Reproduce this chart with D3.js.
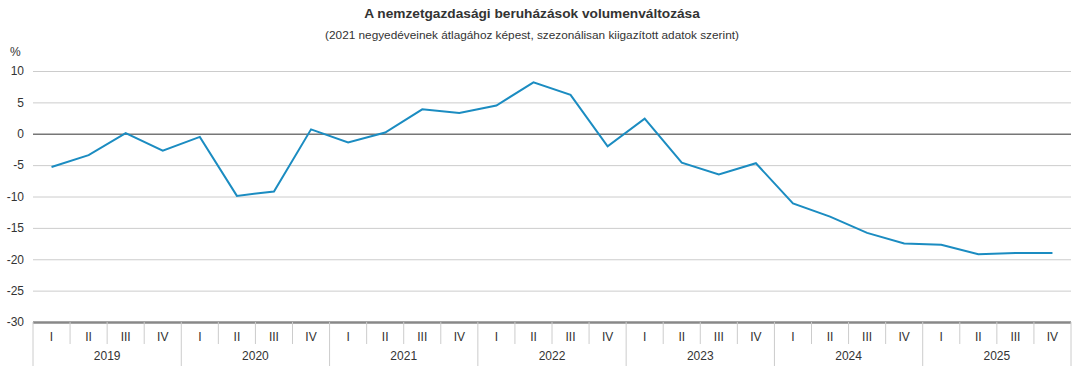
<!DOCTYPE html>
<html>
<head>
<meta charset="utf-8">
<script src="https://cdn.jsdelivr.net/npm/d3@7"></script>
<style>
	body { margin: 0; background: #fff; }
	svg { display: block; font-family: 'Liberation Sans', Arial, sans-serif; }
</style>
</head>
<body>
<div id="chart"></div>
<script>
// Data
var years = ['2019', '2020', '2021', '2022', '2023', '2024', '2025'];
var quarters = ['I', 'II', 'III', 'IV'];
var values = [
	-5.3, -3.4, 0.1, -2.7,
	-0.5, -9.9, -9.2, 0.7,
	-1.4, 0.2, 3.9, 3.3,
	4.5, 8.2, 6.2, -2.0,
	2.4, -4.6, -6.5, -4.7,
	-11.1, -13.2, -15.8, -17.5,
	-17.7, -19.2, -19.0, -19.0
];
var yTicks = [10, 5, 0, -5, -10, -15, -20, -25, -30];

var attrs = {
	width: 1080,
	height: 389,
	marginLeft: 33,
	marginRight: 9,
	plotTop: 71,
	plotBottom: 322,
	titleX: 532,
	textColor: '#333',
	lineColor: '#1b8cc1'
};

var periods = [];
years.forEach(function (y) {
	quarters.forEach(function (q) {
		periods.push({ year: y, q: q, key: y + '-' + q });
	});
});
periods.forEach(function (d, i) { d.value = values[i]; });

var svg = d3.select('#chart').append('svg')
	.attr('width', attrs.width)
	.attr('height', attrs.height);

var x = d3.scaleBand()
	.domain(periods.map(d => d.key))
	.range([attrs.marginLeft, attrs.width - attrs.marginRight]);

var y = d3.scaleLinear()
	.domain([-30, 10])
	.range([attrs.plotBottom, attrs.plotTop]);

// Titles
svg.append('text')
	.attr('x', attrs.titleX).attr('y', 18)
	.attr('text-anchor', 'middle')
	.attr('font-size', 13.7).attr('font-weight', 'bold')
	.attr('fill', attrs.textColor)
	.text('A nemzetgazdasági beruházások volumenváltozása');

svg.append('text')
	.attr('x', attrs.titleX).attr('y', 39)
	.attr('text-anchor', 'middle')
	.attr('font-size', 11.8)
	.attr('fill', attrs.textColor)
	.text('(2021 negyedéveinek átlagához képest, szezonálisan kiigazított adatok szerint)');

svg.append('text')
	.attr('x', 10).attr('y', 56)
	.attr('font-size', 12)
	.attr('fill', attrs.textColor)
	.text('%');

// Y grid + labels (plain hyphen as minus sign)
var yAxis = d3.axisLeft(y)
	.tickValues(yTicks)
	.tickFormat(d => String(d))
	.tickSize(-(attrs.width - attrs.marginRight - attrs.marginLeft))
	.tickPadding(9);

var yg = svg.append('g')
	.attr('transform', 'translate(' + attrs.marginLeft + ',0)')
	.call(yAxis);
yg.select('.domain').remove();
yg.selectAll('.tick line')
	.attr('stroke', d => d === 0 ? '#777' : (d === -30 ? '#888' : '#ccc'))
	.attr('stroke-width', d => d === -30 ? 2.5 : (d === 0 ? 1.3 : 1));
yg.selectAll('.tick text')
	.attr('font-size', 12)
	.attr('fill', attrs.textColor)
	.attr('font-family', "'Liberation Sans', Arial, sans-serif");

// X axis: quarter separators and labels
var xg = svg.append('g');
var bw = x.bandwidth();

xg.selectAll('.qsep')
	.data(periods.filter((d, i) => d.q !== 'I'))
	.enter().append('line')
	.attr('class', 'qsep')
	.attr('x1', d => x(d.key)).attr('x2', d => x(d.key))
	.attr('y1', attrs.plotBottom).attr('y2', attrs.plotBottom + 22)
	.attr('stroke', '#ccc');

var yearStarts = periods.filter(d => d.q === 'I').map(d => x(d.key));
yearStarts.push(attrs.width - attrs.marginRight);
xg.selectAll('.ysep')
	.data(yearStarts)
	.enter().append('line')
	.attr('class', 'ysep')
	.attr('x1', d => d).attr('x2', d => d)
	.attr('y1', attrs.plotBottom).attr('y2', attrs.plotBottom + 44)
	.attr('stroke', '#ccc');

xg.selectAll('.qlab')
	.data(periods)
	.enter().append('text')
	.attr('class', 'qlab')
	.attr('x', d => x(d.key) + bw / 2)
	.attr('y', attrs.plotBottom + 19)
	.attr('text-anchor', 'middle')
	.attr('font-size', 12)
	.attr('fill', attrs.textColor)
	.text(d => d.q);

xg.selectAll('.ylab')
	.data(years)
	.enter().append('text')
	.attr('class', 'ylab')
	.attr('x', d => x(d + '-I') + bw * 2)
	.attr('y', attrs.plotBottom + 38)
	.attr('text-anchor', 'middle')
	.attr('font-size', 12)
	.attr('fill', attrs.textColor)
	.text(d => d);

// Line
var line = d3.line()
	.x(d => x(d.key) + bw / 2)
	.y(d => y(d.value));

svg.append('path')
	.datum(periods)
	.attr('fill', 'none')
	.attr('stroke', attrs.lineColor)
	.attr('stroke-width', 2)
	.attr('stroke-linejoin', 'miter')
	.attr('d', line);
</script>
</body>
</html>
